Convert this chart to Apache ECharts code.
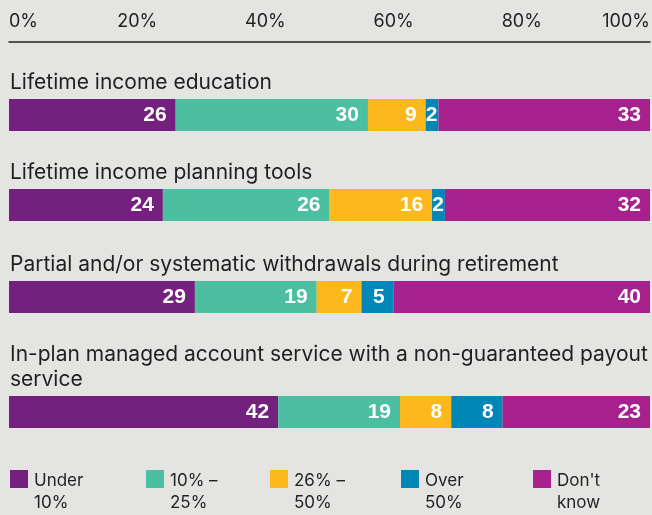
<!DOCTYPE html>
<html>
<head>
<meta charset="utf-8">
<script src="https://cdn.jsdelivr.net/npm/echarts@6/dist/echarts.min.js"></script>
<style>
  html, body { margin: 0; padding: 0; background: #e4e4e2; }
  #chart { width: 652px; height: 515px; }
</style>
</head>
<body>
<div id="chart"></div>
<script>
  // data (percent of respondents)
  var categories = [
    'Lifetime income education',
    'Lifetime income planning tools',
    'Partial and/or systematic withdrawals during retirement',
    'In-plan managed account service with a non-guaranteed payout\nservice'
  ];
  var segmentNames = ['Under\n10%', '10% \u2013\n25%', '26% \u2013\n50%', 'Over\n50%', "Don't\nknow"];
  var under10 = [26, 24, 29, 42];
  var from10to25 = [30, 26, 19, 19];
  var from26to50 = [9, 16, 7, 8];
  var over50 = [2, 2, 5, 8];
  var dontKnow = [33, 32, 40, 23];
  var tickLabels = ['0%', '20%', '40%', '60%', '80%', '100%'];

  var segmentValues = [under10, from10to25, from26to50, over50, dontKnow];
  var colors = ['#74207f', '#4bbf9f', '#fcb81d', '#0087b8', '#a6218d'];
  var gridTops = [99, 189, 281, 396];
  var legendLefts = [10, 146, 270, 401, 533];
  var textColor = '#231f20';
  var font = 'Inter, Liberation Sans, Arial, sans-serif';
  var boldFont = 'Liberation Sans, Arial, sans-serif';

  var chart = echarts.init(document.getElementById('chart'));

  var grids = [], xAxes = [], yAxes = [], series = [], legends = [];

  categories.forEach(function (cat, g) {
    grids.push({left: 9, width: 641, top: gridTops[g], height: 32, outerBoundsMode: 'none'});
    xAxes.push({
      gridIndex: g,
      type: 'value',
      min: 0,
      max: 100,
      interval: 20,
      show: g === 0,
      position: 'top',
      offset: 57,
      axisLine: {show: true, lineStyle: {color: '#222', width: 1.5}},
      axisTick: {show: false},
      splitLine: {show: false},
      axisLabel: {
        margin: 11,
        color: textColor,
        fontFamily: font,
        fontSize: 18,
        alignMinLabel: 'left',
        alignMaxLabel: 'right',
        formatter: function (v) { return tickLabels[v / 20]; }
      }
    });
    yAxes.push({
      gridIndex: g,
      type: 'category',
      data: [cat],
      axisLine: {show: false},
      axisTick: {show: false},
      axisLabel: {show: false},
      name: cat,
      nameLocation: 'end',
      nameGap: 4,
      nameTextStyle: {
        align: 'left',
        verticalAlign: 'bottom',
        color: textColor,
        fontFamily: font,
        fontSize: 21,
        lineHeight: 25,
        padding: [0, 0, 0, 1]
      }
    });
    segmentNames.forEach(function (name, s) {
      var v = segmentValues[s][g];
      series.push({
        type: 'bar',
        name: name,
        stack: 'row' + g,
        xAxisIndex: g,
        yAxisIndex: g,
        barWidth: '100%',
        itemStyle: {color: colors[s]},
        label: {
          show: true,
          position: 'insideRight',
          distance: v < 4 ? 1 : 9,
          color: '#fff',
          fontFamily: boldFont,
          fontWeight: 'bold',
          fontSize: 21
        },
        data: [v]
      });
    });
  });

  segmentNames.forEach(function (name, s) {
    legends.push({
      data: [name],
      left: legendLefts[s],
      top: 470,
      padding: 0,
      itemWidth: 18,
      itemHeight: 44,
      itemGap: 0,
      icon: 'path://M0,0L18,0L18,18L0,18Z M0,44L0.01,44',
      selectedMode: false,
      textStyle: {color: textColor, fontFamily: font, fontSize: 17, lineHeight: 22, padding: [0, 0, 0, 1]}
    });
  });

  chart.setOption({
    backgroundColor: '#e4e4e2',
    animation: false,
    grid: grids,
    xAxis: xAxes,
    yAxis: yAxes,
    legend: legends,
    series: series
  });
</script>
</body>
</html>
